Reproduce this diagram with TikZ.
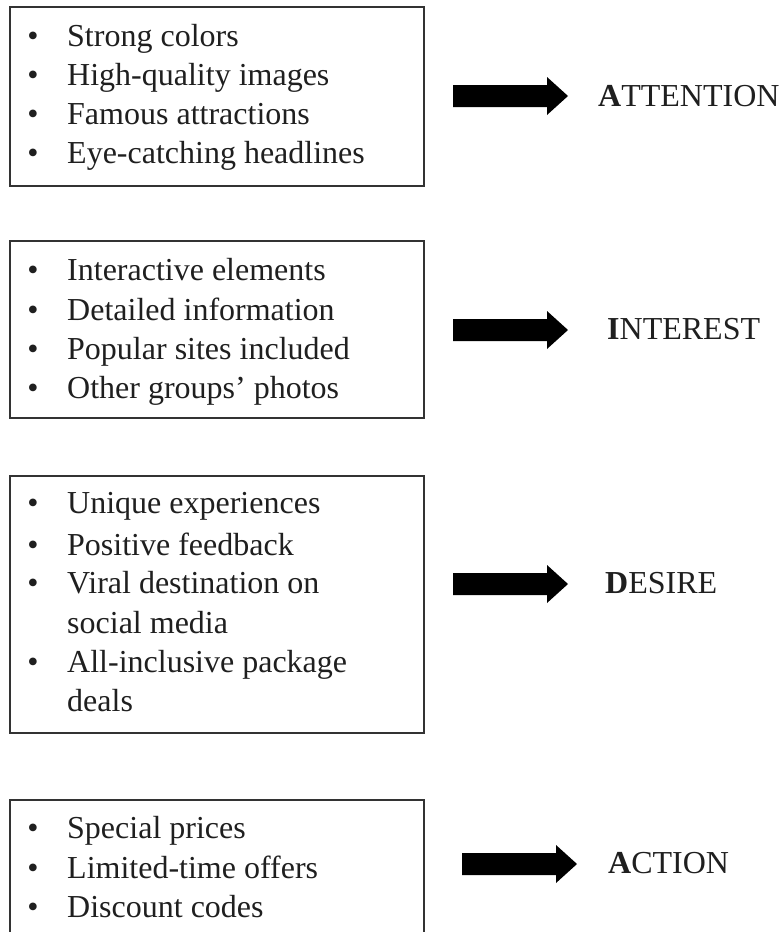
\documentclass[tikz,border=0pt]{standalone}
\usepackage{fontspec}
\setmainfont{Liberation Serif}
\begin{document}
\begin{tikzpicture}[x=1pt,y=-1pt,
  txt/.style={anchor=base west,inner sep=0pt,text=black!88,font=\fontsize{32}{39}\selectfont},
  bul/.style={anchor=base,inner sep=0pt,text=black!88,font=\fontsize{32}{39}\selectfont},
  lbl/.style={anchor=base west,inner sep=0pt,text=black!88,font=\fontsize{32}{39}\selectfont},
  listbox/.style={draw=black!80,line width=1.7pt,anchor=north west,minimum width=414pt,inner sep=0pt},
  blockarrow/.style={fill=black}]
\useasboundingbox (0,0) rectangle (784,932);
\clip (0,0) rectangle (784,932);
% boxes
\node[listbox,minimum height=179pt] (b1) at (9,6) {};
\node[listbox,minimum height=177pt] (b2) at (9,240) {};
\node[listbox,minimum height=257pt] (b3) at (9,475) {};
\node[listbox,minimum height=180pt] (b4) at (9,799) {};
% box 1
\node[bul] (b1u1) at (33,46) {•};  \node[txt] (b1t1) at (67,46) {Strong colors};
\node[bul] (b1u2) at (33,85) {•};  \node[txt] (b1t2) at (67,85) {High-quality images};
\node[bul] (b1u3) at (33,124) {•}; \node[txt] (b1t3) at (67,124) {Famous attractions};
\node[bul] (b1u4) at (33,163) {•}; \node[txt] (b1t4) at (67,163) {Eye-catching headlines};
% box 2
\node[bul] (b2u1) at (33,280) {•}; \node[txt] (b2t1) at (67,280) {Interactive elements};
\node[bul] (b2u2) at (33,320) {•}; \node[txt] (b2t2) at (67,320) {Detailed information};
\node[bul] (b2u3) at (33,359) {•}; \node[txt] (b2t3) at (67,359) {Popular sites included};
\node[bul] (b2u4) at (33,398) {•}; \node[txt] (b2t4) at (67,398) {Other groups’ photos};
% box 3
\node[bul] (b3u1) at (33,513) {•}; \node[txt] (b3t1) at (67,513) {Unique experiences};
\node[bul] (b3u2) at (33,555) {•}; \node[txt] (b3t2) at (67,555) {Positive feedback};
\node[bul] (b3u3) at (33,593) {•}; \node[txt] (b3t3) at (67,593) {Viral destination on};
\node[txt] (b3t4) at (67,633) {social media};
\node[bul] (b3u5) at (33,672) {•}; \node[txt] (b3t5) at (67,672) {All-inclusive package};
\node[txt] (b3t6) at (67,711) {deals};
% box 4
\node[bul] (b4u1) at (33,838) {•}; \node[txt] (b4t1) at (67,838) {Special prices};
\node[bul] (b4u2) at (33,878) {•}; \node[txt] (b4t2) at (67,878) {Limited-time offers};
\node[bul] (b4u3) at (33,917) {•}; \node[txt] (b4t3) at (67,917) {Discount codes};
% arrows
\foreach \nm/\xo/\cy in {a1/453/96, a2/453/330, a3/453/584, a4/462/864}{
  \coordinate (\nm) at (\xo,\cy);
  \fill[blockarrow] (\nm) ++(0,-11) -- ++(94,0) -- ++(0,-8) -- ++(21,19) -- ++(-21,19) -- ++(0,-8) -- ++(-94,0) -- cycle;
}
% labels
\node[lbl] (l1) at (598,106) {\textbf{A}TTENTION};
\node[lbl] (l2) at (607,339) {\textbf{I}NTEREST};
\node[lbl] (l3) at (605,593) {\textbf{D}ESIRE};
\node[lbl] (l4) at (608,873) {\textbf{A}CTION};
\end{tikzpicture}
\end{document}
